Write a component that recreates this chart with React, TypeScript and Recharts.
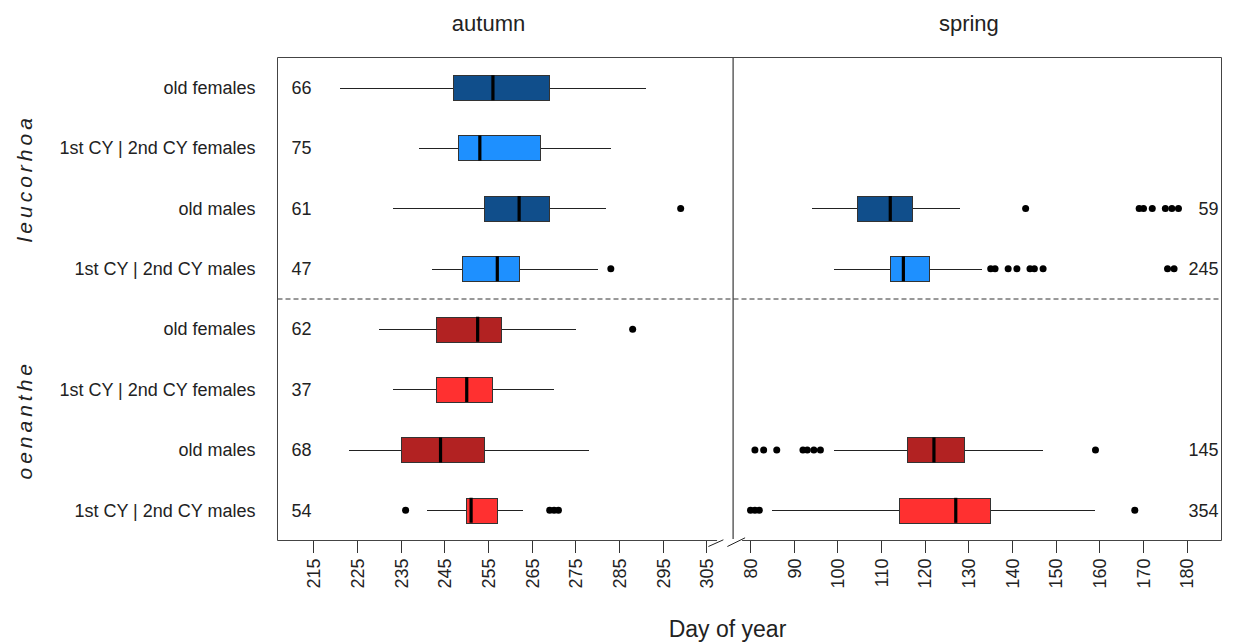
import React from "react";
import { ComposedChart, Bar, Scatter, XAxis, YAxis, ReferenceLine } from "recharts";

const FONT = '"Liberation Sans", Arial, Helvetica, sans-serif';
const INK = "#222";
const FRAME = "#444";

const GROUPS = ["leucorhoa", "oenanthe"];
const CLASSES = ["old females", "1st CY | 2nd CY females", "old males", "1st CY | 2nd CY males"];
const BOX_COLORS = ["#104E8B", "#1E90FF", "#104E8B", "#1E90FF", "#B22222", "#FF3030", "#B22222", "#FF3030"];
const SEASONS = ["autumn", "spring"];

// autumn passage, day of year (rows top to bottom)
const autumnLow = [221, 239, 233, 242, 230, 233, 223, 241];
const autumnQ1 = [247, 248, 254, 249, 243, 243, 235, 250];
const autumnMedian = [256, 253, 262, 257, 252.5, 250, 244, 251];
const autumnQ3 = [269, 267, 269, 262, 258, 256, 254, 257];
const autumnHigh = [291, 283, 282, 280, 275, 270, 278, 263];
const autumnOutliers = [[], [], [299], [283], [288], [], [], [236, 269, 270, 271]];
const autumnN = [66, 75, 61, 47, 62, 37, 68, 54];

// spring passage, no data for the female classes
const springLow = [null, null, 94, 99, null, null, 99, 85];
const springQ1 = [null, null, 104.5, 112, null, null, 116, 114];
const springMedian = [null, null, 112, 115, null, null, 122, 127];
const springQ3 = [null, null, 117, 121, null, null, 129, 135];
const springHigh = [null, null, 128, 133, null, null, 147, 159];
const springOutliers = [
  [], [],
  [143, 169, 170, 172, 175, 176.5, 178],
  [135, 136, 139, 141, 144, 145, 147, 175.5, 177],
  [], [],
  [81, 83, 86, 92, 93, 94.5, 96, 159],
  [80, 81, 82, 168],
];
const springN = [null, null, 59, 245, null, null, 145, 354];

const autumnTicks = [215, 225, 235, 245, 255, 265, 275, 285, 295, 305];
const springTicks = [80, 90, 100, 110, 120, 130, 140, 150, 160, 170, 180];

// spring days are drawn to the right of the axis break
const SHIFT = 235;
const BREAK = 311;
const X_MIN = 206.66;
const X_MAX = 422.86;

const SEP = "#";

const rows = GROUPS.flatMap((group, g) =>
  CLASSES.map((cls, c) => {
    const i = g * CLASSES.length + c;
    const spring = springMedian[i] != null;
    return {
      row: `${group}${SEP}${cls}`,
      group,
      color: BOX_COLORS[i],
      aWhisker: [autumnLow[i], autumnHigh[i]],
      aBox: [autumnQ1[i], autumnQ3[i]],
      sWhisker: spring ? [springLow[i]! + SHIFT, springHigh[i]! + SHIFT] : null,
      sBox: spring ? [springQ1[i]! + SHIFT, springQ3[i]! + SHIFT] : null,
      nA: autumnN[i],
      nS: springN[i],
    };
  })
);

const medianPoints = rows.flatMap((r, i) => {
  const pts = [{ row: r.row, x: autumnMedian[i] }];
  if (springMedian[i] != null) pts.push({ row: r.row, x: springMedian[i]! + SHIFT });
  return pts;
});

const outlierPoints = rows.flatMap((r, i) => [
  ...autumnOutliers[i].map((v) => ({ row: r.row, x: v })),
  ...springOutliers[i].map((v) => ({ row: r.row, x: v + SHIFT })),
]);

const allTicks = [...autumnTicks, BREAK, ...springTicks.map((v) => v + SHIFT)];

const BOX_H = 25;
const TICK_LEN = 12;
const TICK_GAP = 6;
const LEFT_W = 269.5;

const whiskerShape = (key: "aWhisker" | "sWhisker") => (p: any) => {
  if (!p.payload || p.payload[key] == null) return <g />;
  return <rect x={p.x} y={p.y} width={p.width} height={p.height} fill={INK} shapeRendering="crispEdges" />;
};

const boxShape = (key: "aBox" | "sBox") => (p: any) => {
  if (!p.payload || p.payload[key] == null) return <g />;
  return (
    <rect
      x={p.x}
      y={p.y}
      width={p.width}
      height={p.height}
      fill={p.payload.color}
      stroke="#333"
      strokeWidth={1}
      shapeRendering="crispEdges"
    />
  );
};

const MedianMark = (p: any) => (
  <line x1={p.cx} x2={p.cx} y1={p.cy - BOX_H / 2} y2={p.cy + BOX_H / 2} stroke="#000" strokeWidth={3.2} />
);

const OutlierMark = (p: any) => <circle cx={p.cx} cy={p.cy} r={3.5} fill="#000" />;

const RowTick = ({ x, y, payload }: any) => (
  <text x={x} y={y} dy="0.35em" textAnchor="end" fontSize={18} fontFamily={FONT} fill={INK}>
    {String(payload.value).split(SEP)[1]}
  </text>
);

// mirrored axis at the plot's left edge; label sits out in the left margin
const GroupTick = ({ x, y, payload }: any) => {
  const gx = Math.round(x - LEFT_W) + 23;
  return (
    <text
      x={gx}
      y={y}
      transform={`rotate(-90 ${gx} ${y})`}
      textAnchor="middle"
      fontSize={21}
      fontStyle="italic"
      letterSpacing={4}
      fontFamily={FONT}
      fill={INK}
    >
      {payload.value}
    </text>
  );
};

const countTick = (key: "nA" | "nS", anchor: "start" | "end") => ({ x, y, payload }: any) => {
  const r = rows.find((d) => d.row === payload.value);
  const n = r ? r[key] : null;
  if (n == null) return <g />;
  return (
    <text x={x} y={y} dy="0.35em" textAnchor={anchor} fontSize={18} fontFamily={FONT} fill={INK}>
      {n}
    </text>
  );
};

// bottom ticks: tick line + rotated label, and the break marks at BREAK
const DayTick = ({ x, y, payload }: any) => {
  const y0 = y - TICK_LEN - TICK_GAP;
  if (payload.value === BREAK) {
    return (
      <g>
        <line x1={x - 16} x2={x + 9} y1={y0} y2={y0} stroke="#fff" strokeWidth={3} />
        <line x1={x - 24.7} y1={y0 + 6} x2={x - 9.7} y2={y0 - 0.7} stroke={INK} />
        <line x1={x - 5.7} y1={y0 + 6} x2={x + 12} y2={y0 - 2.7} stroke={INK} />
      </g>
    );
  }
  return (
    <g>
      <line x1={x} x2={x} y1={y0} y2={y0 + TICK_LEN} stroke="#333" shapeRendering="crispEdges" />
      <text
        x={x}
        y={y}
        transform={`rotate(-90 ${x} ${y})`}
        dy="0.35em"
        textAnchor="end"
        fontSize={18}
        fontFamily={FONT}
        fill={INK}
      >
        {payload.value > BREAK ? payload.value - SHIFT : payload.value}
      </text>
    </g>
  );
};

const SeasonTick = ({ x, y, payload }: any) => (
  <text x={x} y={y} textAnchor="middle" fontSize={22} fontFamily={FONT} fill={INK}>
    {payload.value > BREAK ? SEASONS[1] : SEASONS[0]}
  </text>
);

const AxisTitle = ({ viewBox }: any) => (
  <text
    x={viewBox.x + viewBox.width / 2 - 22}
    y={viewBox.y + 96}
    textAnchor="middle"
    fontSize={23}
    fontFamily={FONT}
    fill={INK}
  >
    Day of year
  </text>
);

const hiddenAxis = (id: string) => (
  <YAxis yAxisId={id} dataKey="row" type="category" allowDuplicatedCategory={false} hide width={0} />
);

export default function App() {
  return (
    <div style={{ width: 1225, height: 635, background: "#fff" }}>
      <ComposedChart
        layout="vertical"
        width={1225}
        height={635}
        data={rows}
        margin={{ top: 0, right: 11.5, bottom: 0, left: 0 }}
      >
        <XAxis
          dataKey="x"
          type="number"
          domain={[X_MIN, X_MAX]}
          allowDataOverflow
          ticks={allTicks}
          interval={0}
          tick={<DayTick />}
          tickSize={TICK_LEN}
          tickMargin={TICK_GAP}
          tickLine={false}
          axisLine={{ stroke: FRAME }}
          height={102.5}
          label={<AxisTitle />}
        />
        <XAxis
          xAxisId="top"
          orientation="top"
          type="number"
          domain={[X_MIN, X_MAX]}
          allowDataOverflow
          ticks={[255, 130 + SHIFT]}
          tick={<SeasonTick />}
          tickSize={0}
          tickMargin={27}
          tickLine={false}
          axisLine={{ stroke: FRAME }}
          height={49.5}
        />
        <YAxis
          yAxisId="rows"
          dataKey="row"
          type="category"
          allowDuplicatedCategory={false}
          width={LEFT_W}
          tick={<RowTick />}
          tickSize={0}
          tickMargin={22}
          tickLine={false}
          axisLine={{ stroke: FRAME }}
          interval={0}
        />
        <YAxis
          yAxisId="grp"
          dataKey="group"
          type="category"
          allowDuplicatedCategory={false}
          mirror
          width={1}
          tick={<GroupTick />}
          tickSize={0}
          tickMargin={0}
          tickLine={false}
          axisLine={false}
          interval={0}
        />
        <YAxis
          yAxisId="cntA"
          dataKey="row"
          type="category"
          allowDuplicatedCategory={false}
          mirror
          width={1}
          tick={countTick("nA", "start")}
          tickSize={0}
          tickMargin={14}
          tickLine={false}
          axisLine={false}
          interval={0}
        />
        <YAxis
          yAxisId="cntS"
          dataKey="row"
          orientation="right"
          type="category"
          allowDuplicatedCategory={false}
          mirror
          width={1}
          tick={countTick("nS", "end")}
          tickSize={0}
          tickMargin={3}
          tickLine={false}
          axisLine={{ stroke: FRAME }}
          interval={0}
        />
        {hiddenAxis("aw")}
        {hiddenAxis("sw")}
        {hiddenAxis("ab")}
        {hiddenAxis("sb")}
        {hiddenAxis("sc")}

        <Bar yAxisId="aw" dataKey="aWhisker" barSize={1} shape={whiskerShape("aWhisker")} isAnimationActive={false} />
        <Bar yAxisId="sw" dataKey="sWhisker" barSize={1} shape={whiskerShape("sWhisker")} isAnimationActive={false} />
        <Bar yAxisId="ab" dataKey="aBox" barSize={BOX_H} shape={boxShape("aBox")} isAnimationActive={false} />
        <Bar yAxisId="sb" dataKey="sBox" barSize={BOX_H} shape={boxShape("sBox")} isAnimationActive={false} />
        <Scatter yAxisId="sc" data={medianPoints} shape={<MedianMark />} isAnimationActive={false} />
        <Scatter yAxisId="sc" data={outlierPoints} shape={<OutlierMark />} isAnimationActive={false} />

        <ReferenceLine yAxisId="grp" y={GROUPS[1]} position="start" stroke="#333" strokeDasharray="5 3" />
        <ReferenceLine yAxisId="rows" x={BREAK} stroke="#111" />
      </ComposedChart>
    </div>
  );
}
